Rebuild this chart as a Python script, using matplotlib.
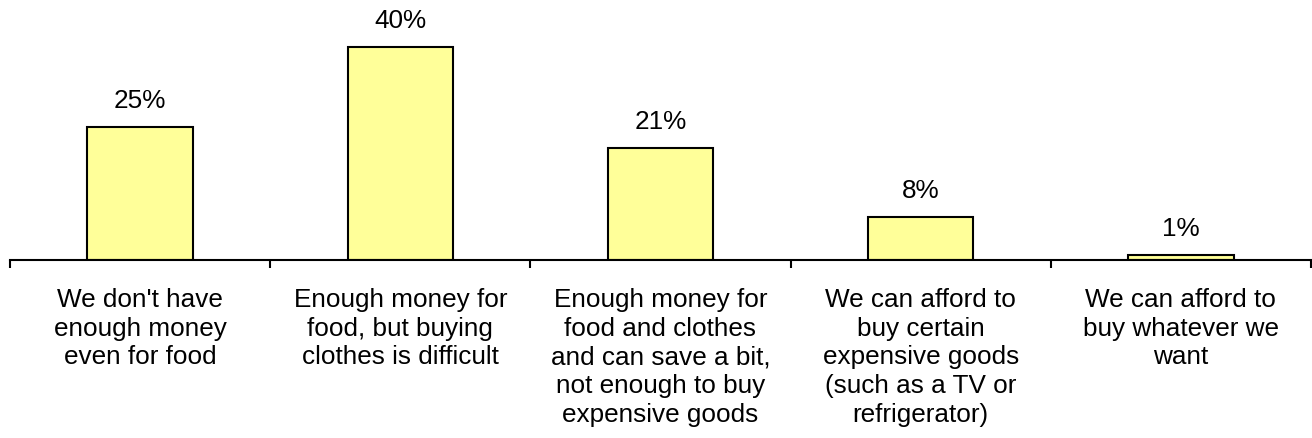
import numpy as np
import matplotlib.pyplot as plt

plt.rcParams['font.family'] = ['Liberation Sans', 'DejaVu Sans']

categories = [
    "We don't have\nenough money\neven for food",
    "Enough money for\nfood, but buying\nclothes is difficult",
    "Enough money for\nfood and clothes\nand can save a bit,\nnot enough to buy\nexpensive goods",
    "We can afford to\nbuy certain\nexpensive goods\n(such as a TV or\nrefrigerator)",
    "We can afford to\nbuy whatever we\nwant",
]
values = [25, 40, 21, 8, 1]

fig = plt.figure(figsize=(13.12, 4.38), dpi=100)
ax = fig.add_axes([10 / 1312, 178 / 438, 1301 / 1312, 240 / 438])

x = np.arange(len(values))
ax.bar(x, values, width=0.405, color='#FFFF99', edgecolor='black', linewidth=1.5)

for xi, v in zip(x, values):
    ax.text(xi, v + 2.6, f"{v}%", ha='center', va='bottom', fontsize=18.8)

ax.set_xlim(-0.5, len(values) - 0.5)
ax.set_ylim(0, 45)

for side in ['top', 'right', 'left']:
    ax.spines[side].set_visible(False)
ax.spines['bottom'].set_linewidth(1.5)
ax.set_yticks([])

ax.set_xticks(x)
ax.set_xticklabels(categories, fontsize=18.8, linespacing=1.25, va='top')
ax.tick_params(axis='x', which='major', length=0, pad=20)
ax.set_xticks(np.arange(len(values) + 1) - 0.5, minor=True)
ax.tick_params(axis='x', which='minor', length=6, width=1.5, direction='out')

fig.savefig('out.png', dpi=100)
